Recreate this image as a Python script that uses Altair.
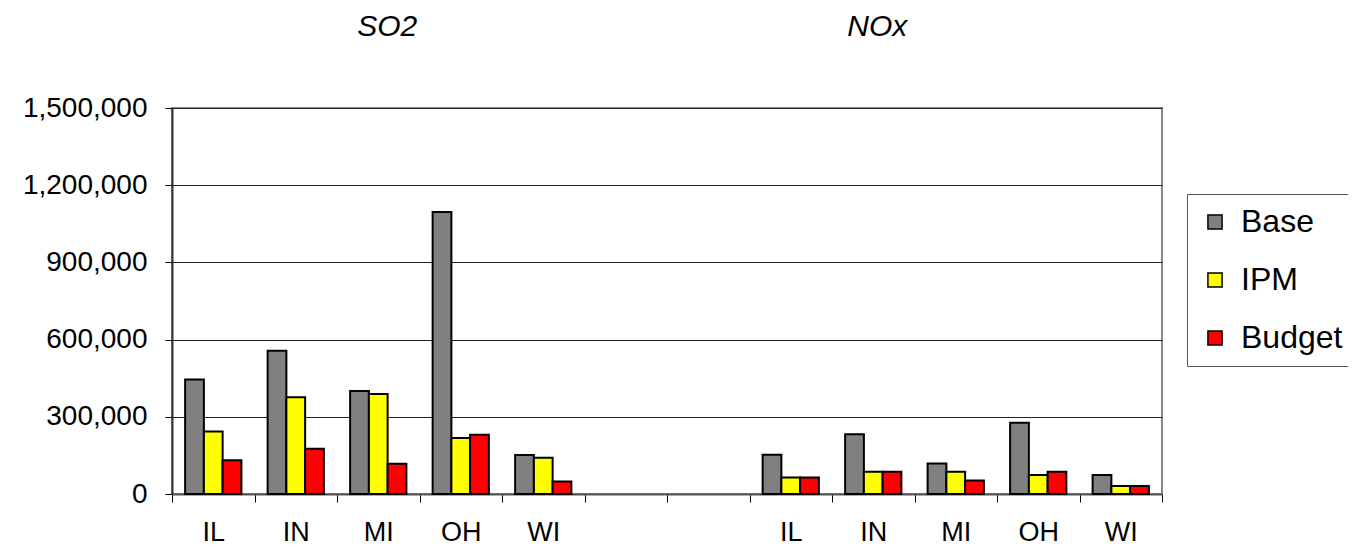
import altair as alt
import pandas as pd

states = ["IL", "IN", "MI", "OH", "WI"]
series = ["Base", "IPM", "Budget"]
colors = ["#808080", "#FFFF00", "#FF0000"]

so2_base = [445000, 557000, 400000, 1096000, 152000]
so2_ipm = [243000, 376000, 389000, 218000, 141000]
so2_budget = [131000, 176000, 118000, 230000, 49000]

nox_base = [153000, 232000, 119000, 277000, 74000]
nox_ipm = [64000, 86000, 86000, 74000, 31000]
nox_budget = [64000, 86000, 52000, 86000, 31000]

groups = ["SO2", "NOx"]
gaps = ["gap1", "gap2"]
y_ticks = [0, 300000, 600000, 900000, 1200000, 1500000]

rows = []
for g, vals in (("SO2", (so2_base, so2_ipm, so2_budget)), ("NOx", (nox_base, nox_ipm, nox_budget))):
    for s, arr in zip(series, vals):
        for st, v in zip(states, arr):
            rows.append({"cat": f"{g}|{st}", "series": s, "value": v})
df = pd.DataFrame(rows)

x_domain = [f"SO2|{s}" for s in states] + gaps + [f"NOx|{s}" for s in states]

titles_so2 = pd.DataFrame({"cat": ["SO2|MI"], "label": [groups[0]]})
titles_nox = pd.DataFrame({"cat": ["NOx|IN"], "label": [groups[1]]})

FONT = "Liberation Sans"

x_scale = alt.Scale(domain=x_domain, paddingInner=0, paddingOuter=0)

bars = alt.Chart(df).mark_bar(stroke="black", strokeWidth=2).encode(
    x=alt.X(
        "cat:N",
        scale=x_scale,
        sort=x_domain,
        axis=alt.Axis(
            title=None,
            labelAngle=0,
            labelExpr="indexof(datum.label, '|') >= 0 ? split(datum.label, '|')[1] : ''",
            tickBand="extent",
            tickSize=8,
            tickColor="black",
            domainColor="#555555",
            domainWidth=2,
            labelFontSize=27,
            labelFont=FONT,
            labelColor="black",
            labelPadding=17,
            grid=False,
        ),
    ),
    xOffset=alt.XOffset("series:N", sort=series,
                        scale=alt.Scale(domain=series, paddingInner=0, paddingOuter=0.7)),
    y=alt.Y(
        "value:Q",
        scale=alt.Scale(domain=[0, 1500000], nice=False),
        axis=alt.Axis(
            title=None,
            values=y_ticks,
            format=",d",
            tickSize=7,
            tickColor="black",
            domainColor="#333333",
            domainWidth=2,
            labelFontSize=28,
            labelFont=FONT,
            labelColor="black",
            labelPadding=18,
            grid=True,
            gridColor="#222222",
            gridWidth=1.2,
        ),
    ),
    color=alt.Color(
        "series:N",
        sort=series,
        scale=alt.Scale(domain=series, range=colors),
        legend=alt.Legend(
            title=None,
            orient="none",
            legendX=1015,
            legendY=86,
            symbolType="square",
            symbolSize=200,
            symbolStrokeColor="black",
            symbolStrokeWidth=1.5,
            labelFontSize=32,
            labelFont=FONT,
            labelColor="black",
            labelOffset=10,
            rowPadding=26,
            padding=12,
            strokeColor="#555555",
            fillColor="white",
        ),
    ),
)

title_so2 = alt.Chart(titles_so2).mark_text(
    font=FONT, fontSize=30, fontStyle="italic", color="black", baseline="middle", dx=9
).encode(
    x=alt.X("cat:N", scale=x_scale, sort=x_domain),
    y=alt.value(-81),
    text="label:N",
)
title_nox = alt.Chart(titles_nox).mark_text(
    font=FONT, fontSize=30, fontStyle="italic", color="black", baseline="middle", dx=4
).encode(
    x=alt.X("cat:N", scale=x_scale, sort=x_domain),
    y=alt.value(-81),
    text="label:N",
)

chart = alt.layer(bars, title_so2, title_nox).properties(
    width=990,
    height=386,
    background="white",
    autosize=alt.AutoSizeParams(type="none"),
    padding={"left": 164, "top": 100, "right": 186, "bottom": 55},
).configure_view(
    stroke="#888888",
    strokeWidth=2,
)

chart.save("out.html", embed_options={"renderer": "svg", "actions": False})
